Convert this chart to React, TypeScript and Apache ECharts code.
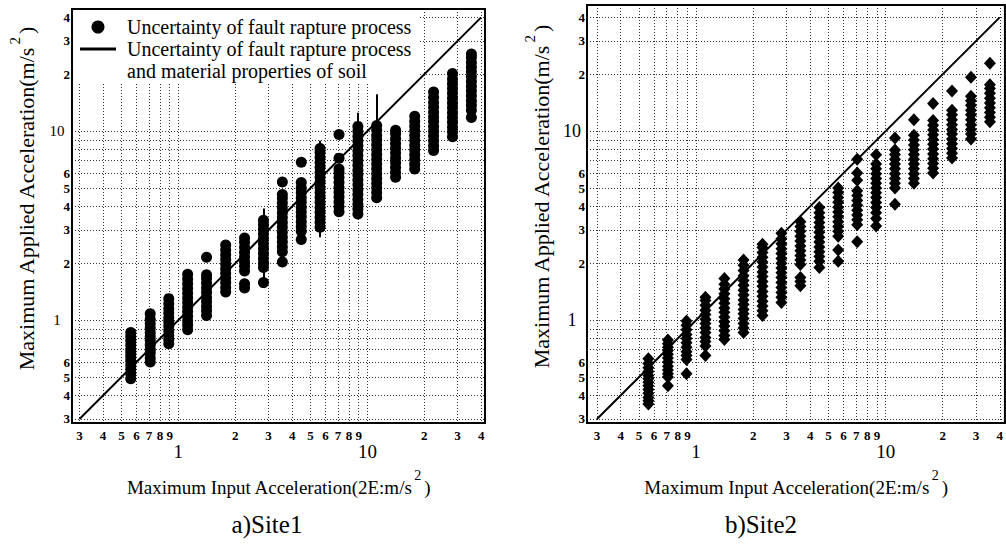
import React, { useEffect, useRef } from "react";
import * as echarts from "echarts";

// Maximum input acceleration of each simulated case (x, m/s^2)
const inputAcceleration = [0.56, 0.71, 0.89, 1.12, 1.41, 1.78, 2.24, 2.82, 3.55, 4.47, 5.62, 7.08, 8.91, 11.2, 14.1, 17.8, 22.4, 28.2, 35.5];

// Site 1: maximum applied acceleration per input level (circles)
const site1Applied: number[][] = [
  [0.49, 0.52, 0.55, 0.58, 0.61, 0.64, 0.67, 0.7, 0.74, 0.78, 0.82, 0.86],
  [0.6, 0.63, 0.67, 0.7, 0.74, 0.78, 0.82, 0.86, 0.91, 0.96, 1.01, 1.08],
  [0.75, 0.79, 0.83, 0.88, 0.93, 0.98, 1.03, 1.09, 1.15, 1.22, 1.3],
  [0.89, 0.94, 0.99, 1.05, 1.11, 1.17, 1.24, 1.31, 1.39, 1.47, 1.56, 1.65, 1.75],
  [1.06, 1.12, 1.18, 1.25, 1.32, 1.4, 1.48, 1.57, 1.66, 1.74, 2.15],
  [1.41, 1.49, 1.58, 1.67, 1.77, 1.87, 1.98, 2.1, 2.22, 2.35, 2.5],
  [1.48, 1.56, 1.82, 1.93, 2.04, 2.16, 2.29, 2.43, 2.58, 2.72],
  [1.58, 1.9, 2.0, 2.12, 2.25, 2.39, 2.54, 2.7, 2.86, 3.03, 3.2, 3.38],
  [2.03, 2.3, 2.44, 2.59, 2.75, 2.92, 3.1, 3.29, 3.49, 3.7, 3.93, 4.17, 4.42, 4.62, 5.38],
  [2.67, 2.95, 3.13, 3.32, 3.52, 3.73, 3.96, 4.2, 4.45, 4.72, 5.0, 5.35, 6.85],
  [3.1, 3.3, 3.5, 3.72, 3.95, 4.2, 4.46, 4.74, 5.03, 5.35, 5.7, 6.05, 6.43, 6.83, 7.25, 7.7, 8.1],
  [3.75, 3.98, 4.22, 4.48, 4.75, 5.04, 5.35, 5.68, 6.03, 6.3, 7.2, 9.6],
  [3.65, 3.87, 4.1, 4.35, 4.62, 4.9, 5.2, 5.52, 5.86, 6.22, 6.6, 7.0, 7.43, 7.88, 8.36, 8.87, 9.41, 9.98, 10.6],
  [4.45, 4.72, 5.0, 5.3, 5.62, 5.96, 6.32, 6.7, 7.1, 7.53, 7.98, 8.46, 8.97, 9.5, 10.1, 10.7],
  [5.7, 6.05, 6.42, 6.81, 7.22, 7.66, 8.12, 8.61, 9.13, 9.68, 10.1],
  [6.3, 6.68, 7.08, 7.5, 7.95, 8.43, 8.94, 9.48, 10.05, 10.65, 11.3, 12.0],
  [7.9, 8.38, 8.89, 9.43, 10.0, 10.6, 11.25, 11.9, 12.6, 13.4, 14.2, 15.1, 16.1],
  [9.35, 9.92, 10.5, 11.15, 11.8, 12.5, 13.3, 14.1, 14.95, 15.85, 16.8, 17.8, 18.9, 20.2],
  [11.8, 12.9, 13.7, 14.5, 15.4, 16.3, 17.3, 18.3, 19.4, 20.6, 21.8, 23.1, 24.5, 25.6],
];

// Site 1: ranges including soil property uncertainty [input, low, high]
const site1CombinedRanges: [number, number, number][] = [
  [2.82, 1.6, 3.9],
  [5.62, 2.75, 8.9],
  [8.91, 3.5, 12.5],
  [11.2, 4.2, 15.7],
];

// Site 2: maximum applied acceleration per input level (diamonds)
const site2Applied: number[][] = [
  [0.36, 0.375, 0.39, 0.41, 0.43, 0.45, 0.47, 0.49, 0.51, 0.535, 0.56, 0.59, 0.625],
  [0.45, 0.5, 0.52, 0.545, 0.57, 0.6, 0.63, 0.66, 0.69, 0.72, 0.75, 0.785],
  [0.52, 0.62, 0.65, 0.68, 0.72, 0.76, 0.8, 0.84, 0.89, 0.94, 0.99],
  [0.65, 0.73, 0.77, 0.81, 0.86, 0.91, 0.96, 1.01, 1.07, 1.13, 1.2, 1.27, 1.32],
  [0.79, 0.83, 0.88, 0.93, 0.98, 1.04, 1.1, 1.16, 1.23, 1.3, 1.38, 1.46, 1.55, 1.66],
  [0.86, 0.91, 0.96, 1.02, 1.08, 1.14, 1.21, 1.28, 1.36, 1.44, 1.53, 1.62, 1.72, 1.83, 1.95, 2.08],
  [1.06, 1.12, 1.19, 1.26, 1.34, 1.42, 1.51, 1.6, 1.7, 1.8, 1.91, 2.03, 2.15, 2.28, 2.42, 2.52],
  [1.24, 1.32, 1.4, 1.49, 1.58, 1.68, 1.78, 1.89, 2.0, 2.12, 2.25, 2.39, 2.54, 2.7, 2.88],
  [1.52, 1.6, 1.68, 1.97, 2.08, 2.2, 2.33, 2.47, 2.62, 2.78, 2.95, 3.13, 3.32],
  [1.9, 2.05, 2.17, 2.3, 2.44, 2.59, 2.75, 2.92, 3.1, 3.29, 3.49, 3.7, 3.95],
  [2.05, 2.35, 2.78, 2.95, 3.13, 3.32, 3.52, 3.73, 3.96, 4.2, 4.46, 4.73, 5.0],
  [2.6, 3.2, 3.4, 3.6, 3.82, 4.05, 4.3, 4.56, 4.84, 5.5, 6.0, 7.1],
  [3.15, 3.45, 3.7, 3.95, 4.19, 4.45, 4.72, 5.0, 5.3, 5.62, 5.96, 6.32, 6.7, 7.5],
  [4.1, 5.0, 5.3, 5.62, 5.96, 6.32, 6.7, 7.1, 7.53, 7.95, 9.2],
  [5.3, 5.62, 5.96, 6.32, 6.7, 7.1, 7.53, 7.98, 8.46, 8.97, 9.5, 11.5],
  [6.0, 6.36, 6.74, 7.15, 7.58, 8.04, 8.52, 9.03, 9.57, 10.15, 10.75, 11.4, 14.0],
  [7.2, 7.63, 8.09, 8.58, 9.1, 9.65, 10.2, 10.8, 11.5, 12.2, 12.9, 16.3],
  [9.1, 9.65, 10.2, 10.8, 11.5, 12.2, 12.9, 13.7, 14.5, 15.3, 19.3],
  [11.2, 11.85, 12.55, 13.3, 14.1, 14.95, 15.85, 16.8, 17.6, 22.9],
];

// 1:1 reference line end points
const referenceLine = [0.3, 40];

// Grid lines and tick labels
const gridValues = [0.3, 0.4, 0.5, 0.6, 0.7, 0.8, 0.9, 1, 2, 3, 4, 5, 6, 7, 8, 9, 10, 20, 30, 40];
const xMinorLabels = [0.3, 0.4, 0.5, 0.6, 0.7, 0.8, 0.9, 2, 3, 4, 5, 6, 7, 8, 9, 20, 30, 40];
const xDecadeLabels = [1, 10];
const yLabels = [0.3, 0.4, 0.5, 0.6, 1, 2, 3, 4, 5, 6, 10, 20, 30, 40];

const panelTitles = ["a)Site1", "b)Site2"];
const SERIES_A = "Uncertainty of fault rapture process";
const SERIES_B = "Uncertainty of fault rapture process\nand material properties of soil";

const FONT = "'Liberation Serif', 'Times New Roman', Times, serif";

const isDecade = (v: number) => Math.abs(v - 1) < 1e-9 || Math.abs(v - 10) < 1e-9;
const digit = (v: number) => String(Math.round(v < 1 ? v * 10 : v < 10 ? v : v / 10));

function toPoints(cols: number[][]) {
  const out: number[][] = [];
  cols.forEach((col, i) => col.forEach((y) => out.push([inputAcceleration[i], y])));
  return out;
}

const gridLineStyle = { color: "#000", width: 1, type: [1, 2] as number[], opacity: 0.8 };

function makeX(gridIndex: number, min: number, max: number) {
  return {
    type: "log",
    logBase: 10,
    gridIndex,
    min,
    max,
    axisLine: { show: false },
    axisTick: { show: false, customValues: gridValues },
    minorTick: { show: false },
    minorSplitLine: { show: false },
    splitLine: { show: true, lineStyle: gridLineStyle },
    axisLabel: {
      customValues: [...xMinorLabels, ...xDecadeLabels],
      margin: 6,
      color: "#000",
      formatter: (v: number) => (isDecade(v) ? `{big|${Math.round(v)}}` : `{small|${digit(v)}}`),
      rich: {
        small: { fontFamily: FONT, fontSize: 13, fontWeight: "bold", color: "#000" },
        big: { fontFamily: FONT, fontSize: 19, color: "#000", padding: [13, 0, 0, 0] },
      },
    },
    name: "Maximum Input Acceleration(2E:m/s{sup|2})",
    nameLocation: "middle",
    nameGap: 45,
    nameTextStyle: {
      fontFamily: FONT,
      fontSize: 19,
      color: "#000",
      rich: { sup: { fontFamily: FONT, fontSize: 14, color: "#000", padding: [0, 3, 24, 2] } },
    },
  };
}

function makeY(gridIndex: number, min: number, max: number, bigSize: number) {
  return {
    type: "log",
    logBase: 10,
    gridIndex,
    min,
    max,
    axisLine: { show: false },
    axisTick: { show: false, customValues: gridValues },
    minorTick: { show: false },
    minorSplitLine: { show: false },
    splitLine: { show: true, lineStyle: gridLineStyle },
    axisLabel: {
      customValues: yLabels,
      margin: 2,
      color: "#000",
      formatter: (v: number) => (isDecade(v) ? `{big|${Math.round(v)}}` : `{small|${digit(v)}}`),
      rich: {
        small: { fontFamily: FONT, fontSize: 13, fontWeight: "bold", color: "#000" },
        big: { fontFamily: FONT, fontSize: bigSize, color: "#000", width: 18, align: "center", padding: [0, 4, 0, 0] },
      },
    },
    name: "{sp| }Maximum Applied Acceleration(m/s{sup|2})",
    nameLocation: "middle",
    nameRotate: 90,
    nameGap: 26,
    nameTextStyle: {
      fontFamily: FONT,
      fontSize: 22,
      color: "#000",
      rich: {
        sp: { fontFamily: FONT, fontSize: 22, width: 34 },
        sup: { fontFamily: FONT, fontSize: 15, color: "#000", padding: [0, 3, 24, 2] },
      },
    },
  };
}

export default function App() {
  const ref = useRef<HTMLDivElement>(null);
  useEffect(() => {
    if (!ref.current) return;
    const chart = echarts.init(ref.current, undefined, { renderer: "svg" });
    const option = {
      animation: false,
      backgroundColor: "#fff",
      title: [
        { text: panelTitles[0], left: 267, top: 512, textAlign: "center", padding: 0, textStyle: { fontFamily: FONT, fontSize: 25, fontWeight: "normal", color: "#000" } },
        { text: panelTitles[1], left: 761, top: 512, textAlign: "center", padding: 0, textStyle: { fontFamily: FONT, fontSize: 25, fontWeight: "normal", color: "#000" } },
      ],
      grid: [
        { left: 72, top: 9, width: 413, height: 414, show: true, borderColor: "#000", borderWidth: 2, backgroundColor: "transparent", containLabel: false },
        { left: 587, top: 5, width: 419, height: 418, show: true, borderColor: "#000", borderWidth: 2, backgroundColor: "transparent", containLabel: false },
      ],
      xAxis: [makeX(0, 0.2738, 41.9), makeX(1, 0.2657, 42.6)],
      yAxis: [makeY(0, 0.2857, 44.3, 15), makeY(1, 0.2857, 46.5, 18)],
      legend: {
        show: true,
        orient: "vertical",
        left: 73,
        top: 10,
        padding: [6, 8, 0, 7],
        backgroundColor: "#fff",
        itemWidth: 36,
        itemHeight: 13,
        itemGap: -22,
        selectedMode: false,
        formatter: (name: string) => (name === SERIES_B ? "\n" + name : name),
        textStyle: { fontFamily: FONT, fontSize: 20, color: "#000", lineHeight: 22, padding: [0, 0, 0, 6] },
        data: [
          { name: SERIES_A, icon: "circle", itemStyle: { color: "#000" } },
          { name: SERIES_B, icon: "path://M0 0H36V3H0Z", itemStyle: { color: "#000", borderWidth: 0 } },
        ],
      },
      series: [
        {
          type: "scatter",
          name: SERIES_A,
          xAxisIndex: 0,
          yAxisIndex: 0,
          data: toPoints(site1Applied),
          symbol: "circle",
          symbolSize: 11,
          itemStyle: { color: "#000", opacity: 1 },
          z: 3,
        },
        {
          type: "lines",
          name: SERIES_B,
          coordinateSystem: "cartesian2d",
          xAxisIndex: 0,
          yAxisIndex: 0,
          data: site1CombinedRanges.map(([x, lo, hi]) => ({ coords: [[x, lo], [x, hi]] })),
          lineStyle: { color: "#000", width: 2, opacity: 1 },
          itemStyle: { color: "#000" },
          z: 3,
        },
        {
          type: "line",
          name: "1:1 line (Site1)",
          xAxisIndex: 0,
          yAxisIndex: 0,
          data: [referenceLine[0], referenceLine[1]].map((v) => [v, v]),
          symbol: "none",
          lineStyle: { color: "#000", width: 2 },
          z: 4,
          silent: true,
        },
        {
          type: "scatter",
          name: "Site2",
          xAxisIndex: 1,
          yAxisIndex: 1,
          data: toPoints(site2Applied),
          symbol: "diamond",
          symbolSize: [12, 13],
          itemStyle: { color: "#000", opacity: 1 },
          z: 3,
        },
        {
          type: "line",
          name: "1:1 line (Site2)",
          xAxisIndex: 1,
          yAxisIndex: 1,
          data: [referenceLine[0], referenceLine[1]].map((v) => [v, v]),
          symbol: "none",
          lineStyle: { color: "#000", width: 2 },
          z: 4,
          silent: true,
        },
      ],
    };
    chart.setOption(option as any);
    return () => chart.dispose();
  }, []);
  return (
    <div
      ref={ref}
      style={{ position: "fixed", left: 0, top: 0, width: 1006, height: 546, background: "#fff" }}
    />
  );
}
